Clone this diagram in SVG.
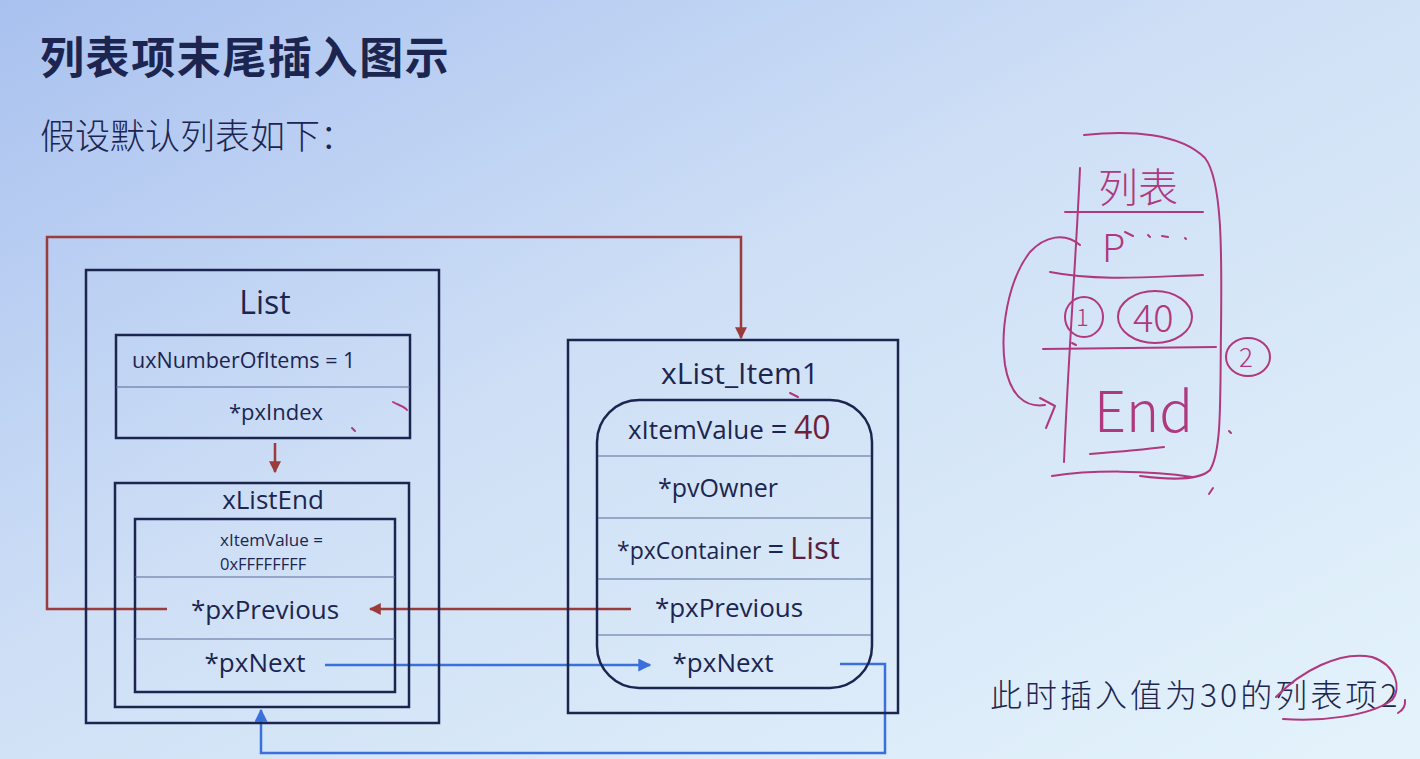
<svg xmlns="http://www.w3.org/2000/svg" width="1420" height="759" viewBox="0 0 1420 759">
<defs>
<linearGradient id="bg" x1="0" y1="0" x2="1" y2="1">
<stop offset="0" stop-color="#a9c1ef"/>
<stop offset="0.45" stop-color="#cfe0f6"/>
<stop offset="1" stop-color="#e4f3fb"/>
</linearGradient>
<marker id="arrRedS" viewBox="0 0 10 10" refX="9" refY="5" markerWidth="12" markerHeight="12" markerUnits="userSpaceOnUse" orient="auto">
<path d="M0,0 L10,5 L0,10 z" fill="#9b3b3b"/>
</marker>
<marker id="arrBlue" viewBox="0 0 10 10" refX="9" refY="5" markerWidth="13" markerHeight="13" markerUnits="userSpaceOnUse" orient="auto">
<path d="M0,0 L10,5 L0,10 z" fill="#3a6fdc"/>
</marker>
<style>
.box{fill:none;stroke:#1c2550;stroke-width:2.5}
.div{fill:none;stroke:#5a6a9a;stroke-width:1.2}
.lbl{font-family:"Open Sans","Noto Sans",sans-serif;fill:#1c2550}
.cjk{font-family:"Noto Sans CJK SC","Noto Sans",sans-serif;fill:#1c2550}
.red{fill:none;stroke:#9b3b3b;stroke-width:2.5}
.blue{fill:none;stroke:#3a6fdc;stroke-width:2.5}
.pen{fill:none;stroke:#b0387e;stroke-width:2;stroke-linecap:round;stroke-linejoin:round}
.hand{font-family:"Noto Sans CJK SC","Liberation Sans",sans-serif;fill:#b0387e;font-weight:300}
</style>
</defs>
<rect x="0" y="0" width="1420" height="759" fill="url(#bg)"/>

<g id="title">
<text class="cjk" x="40" y="74" font-size="44" font-weight="bold" letter-spacing="1.6">列表项末尾插入图示</text>
<text class="cjk" x="40" y="149" font-size="35" font-weight="300">假设默认列表如下：</text>
</g>

<g id="connectors">
<path class="red" d="M167,609 L47,609 L47,237 L741,237 L741,338" marker-end="url(#arrRedS)"/>
<path class="red" d="M275,443 L275,472" marker-end="url(#arrRedS)"/>
<path class="red" d="M631,609 L370,609" marker-end="url(#arrRedS)"/>
<path class="blue" d="M325,665 L650,665" marker-end="url(#arrBlue)"/>
<path class="blue" d="M840,664 L885,664 L885,753 L261,753 L261,710" marker-end="url(#arrBlue)"/>
</g>

<g id="list">
<rect class="box" x="86" y="270" width="353" height="453"/>
<text class="lbl" x="265" y="314" font-size="32" text-anchor="middle">List</text>
</g>

<g id="list-fields">
<rect class="box" x="116" y="335" width="294" height="103"/>
<line class="div" x1="116" y1="387" x2="410" y2="387"/>
<text class="lbl" x="132" y="368" font-size="21.5">uxNumberOfItems = 1</text>
<text class="lbl" x="276" y="420" font-size="22" text-anchor="middle">*pxIndex</text>
</g>

<g id="xListEnd">
<rect class="box" x="115" y="483" width="294" height="224"/>
<text class="lbl" x="273" y="509" font-size="26" text-anchor="middle">xListEnd</text>
<rect class="box" x="135" y="519" width="260" height="173"/>
<line class="div" x1="135" y1="577" x2="395" y2="577"/>
<line class="div" x1="135" y1="639" x2="395" y2="639"/>
<text class="lbl" x="220" y="546" font-size="17">xItemValue =</text>
<text class="lbl" x="220" y="570" font-size="16.5">0xFFFFFFFF</text>
<text class="lbl" x="265" y="619" font-size="26" text-anchor="middle">*pxPrevious</text>
<text class="lbl" x="255" y="672" font-size="26" text-anchor="middle">*pxNext</text>
</g>

<g id="xList_Item1">
<rect class="box" x="568" y="340" width="330" height="373"/>
<text class="lbl" x="740" y="384" font-size="30" text-anchor="middle">xList_Item1</text>
<rect class="box" x="597" y="400" width="275" height="288" rx="42" ry="42"/>
<line class="div" x1="598" y1="456" x2="871" y2="456"/>
<line class="div" x1="598" y1="518" x2="871" y2="518"/>
<line class="div" x1="598" y1="579" x2="871" y2="579"/>
<line class="div" x1="598" y1="635" x2="871" y2="635"/>
<text class="lbl" x="628" y="439" font-size="26">xItemValue <tspan font-size="29">=</tspan> <tspan fill="#6e1f3a" font-size="32">40</tspan></text>
<text class="lbl" x="718" y="497" font-size="25" text-anchor="middle">*pvOwner</text>
<text class="lbl" x="617" y="559" font-size="23">*pxContainer <tspan font-size="29">=</tspan> <tspan fill="#5a1f3e" font-size="31">List</tspan></text>
<text class="lbl" x="729" y="617" font-size="26" text-anchor="middle">*pxPrevious</text>
<text class="lbl" x="723" y="672" font-size="26" text-anchor="middle">*pxNext</text>
</g>

<g id="note">
<text class="cjk" x="990" y="707" font-size="32" font-weight="300" letter-spacing="3">此时插入值为30的列表项2</text>
<path class="pen" d="M1283,719 C1320,722 1370,716 1392,700 C1402,688 1396,665 1372,657 C1340,650 1300,672 1276,697"/>
<path class="pen" d="M1405,700 Q1406,708 1398,713"/>
</g>

<g id="sketch">
<path class="pen" d="M1080,168 C1076,260 1068,360 1064,462"/>
<path class="pen" d="M1084,135 C1130,130 1180,133 1205,158 C1222,180 1222,250 1221,330 C1220,400 1222,450 1210,470 C1200,480 1170,480 1140,476"/>
<path class="pen" d="M1065,212 L1203,212"/>
<path class="pen" d="M1050,272 C1100,282 1160,276 1203,275"/>
<path class="pen" d="M1043,349 L1216,347"/>
<path class="pen" d="M1052,476 C1090,470 1150,470 1192,477"/>
<path class="pen" d="M1080,245 C1065,232 1045,236 1030,252 C1008,280 1000,330 1005,365 C1010,395 1025,408 1045,405"/>
<path class="pen" d="M1040,398 L1055,406 L1046,428"/>
<ellipse class="pen" cx="1084" cy="317" rx="19" ry="20"/>
<ellipse class="pen" cx="1155" cy="317" rx="37" ry="26"/>
<ellipse class="pen" cx="1248" cy="357" rx="22" ry="19"/>
<path class="pen" d="M1090,454 C1115,452 1140,450 1164,447"/>
<text class="hand" x="1098" y="202" font-size="40">列表</text>
<text class="hand" x="1102" y="262" font-size="38">P</text>
<path class="pen" d="M1125,232 L1133,236 M1148,235 L1150,237 M1162,236 L1168,237 M1185,238 L1186,239"/>
<text class="hand" x="1076" y="326" font-size="24">1</text>
<text class="hand" x="1133" y="332" font-size="38">40</text>
<text class="hand" x="1239" y="367" font-size="26">2</text>
<text class="hand" x="1094" y="432" font-size="56">End</text>
<path class="pen" d="M1072,343 L1076,345 M1229,431 L1231,433 M1213,488 L1209,494"/>
</g>

<g id="marks">
<path class="pen" d="M393,402 C398,405 404,406 407,410" stroke-width="1.5"/>
<path class="pen" d="M352,428 L355,431" stroke-width="1.5"/>
<path class="pen" d="M790,393 L798,397" stroke-width="1.5"/>
</g>
</svg>
